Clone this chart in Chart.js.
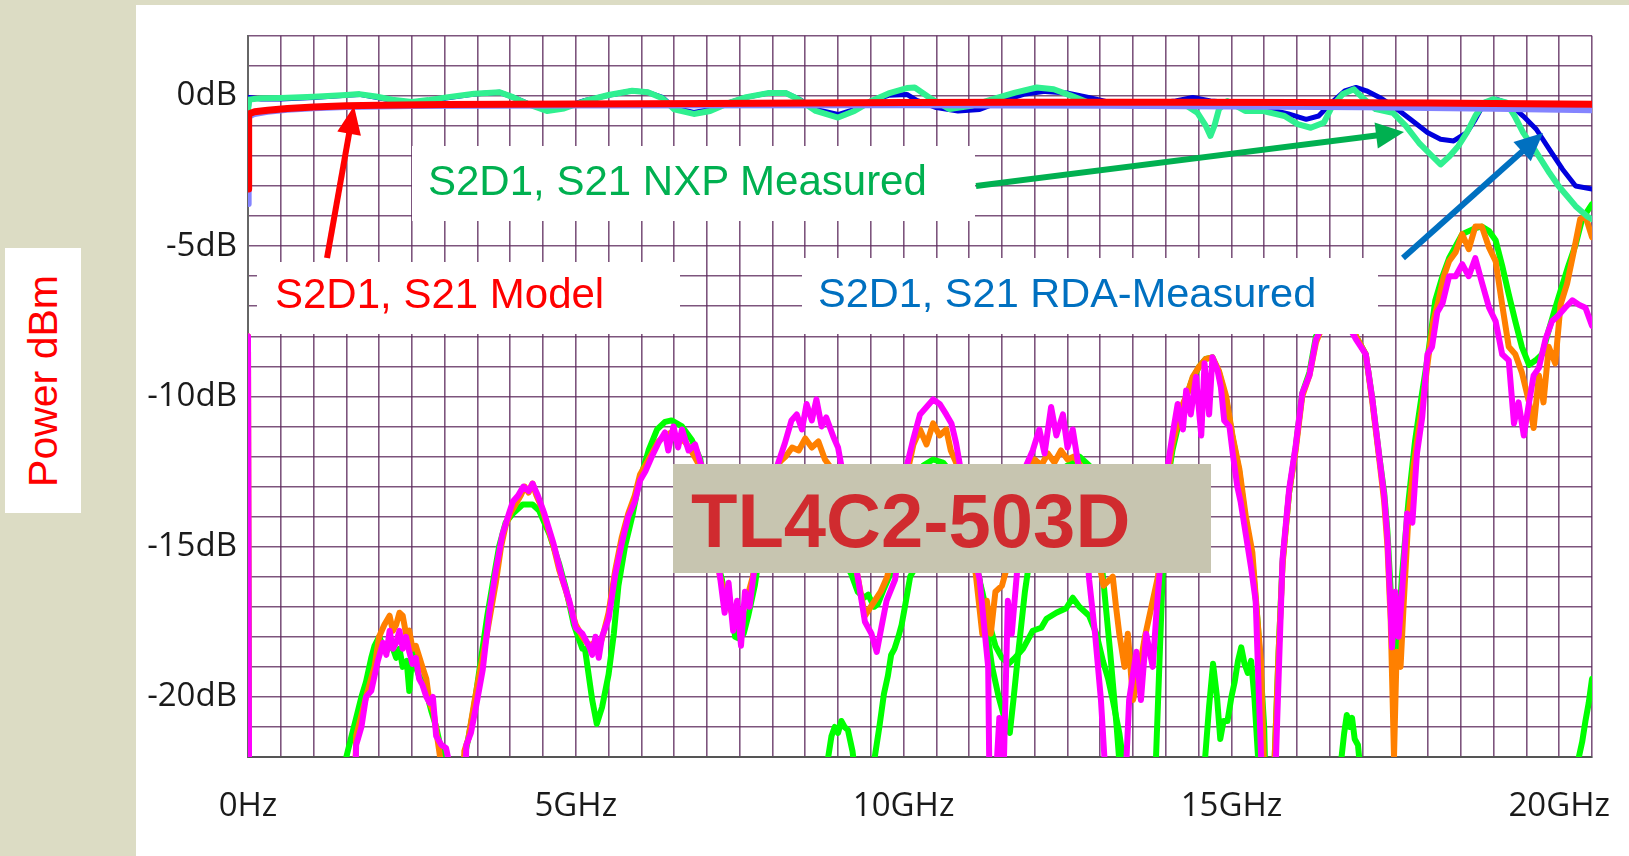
<!DOCTYPE html>
<html><head><meta charset="utf-8">
<script src="https://cdn.jsdelivr.net/npm/chart.js@4.4.1/dist/chart.umd.min.js"></script>
<style>
html,body{margin:0;padding:0;}
body{width:1629px;height:856px;background:#dcdcc4;position:relative;overflow:hidden;}
#panel{position:absolute;left:136px;top:5px;width:1493px;height:851px;background:#fff;}
#c{position:absolute;left:136px;top:5px;width:1493px;height:851px;}
#ov{position:absolute;left:0;top:0;pointer-events:none;}
</style></head><body>
<div id="panel"></div>
<canvas id="c" width="1493" height="851"></canvas>
<svg id="ov" width="1629" height="856" xmlns="http://www.w3.org/2000/svg"></svg>
<script>
// ---------- tick labels ----------
const xTickValues = [0, 5, 10, 15, 20];
const xTickLabels = ['0Hz', '5GHz', '10GHz', '15GHz', '20GHz'];
const yTickValues = [0, -5, -10, -15, -20];
const yTickLabels = ['0dB', '-5dB', '-10dB', '-15dB', '-20dB'];

// ---------- S21 curves (GHz, dB) ----------
const s21Model = [[0,-3.1],[0.01,-0.6],[0.1,-0.53],[0.3,-0.48],[0.6,-0.42],[1.0,-0.37],[1.5,-0.33],[2.0,-0.31],[3.0,-0.29],[5,-0.27],[7,-0.25],[10,-0.22],[12,-0.21],[14,-0.21],[16,-0.22],[18,-0.24],[20.5,-0.28]];
const s21Model2 = [[0,-3.6],[0.01,-0.7],[0.1,-0.6],[0.3,-0.53],[0.6,-0.46],[1.0,-0.41],[1.5,-0.37],[2.5,-0.34],[5,-0.32],[10,-0.31],[13,-0.33],[15,-0.35],[17,-0.38],[19,-0.43],[20.5,-0.48]];
const s21Nxp = [[0,-0.5],[0.02,-0.12],[0.2,-0.08],[0.5,-0.07],[1.0,-0.03],[1.5,0.03],[1.7,0.06],[1.95,-0.02],[2.2,-0.13],[2.5,-0.2],[2.75,-0.14],[3.05,-0.04],[3.45,0.07],[3.84,0.12],[4.05,-0.05],[4.3,-0.3],[4.56,-0.5],[4.82,-0.42],[5.14,-0.17],[5.5,0.03],[5.86,0.17],[6.1,0.12],[6.32,-0.08],[6.5,-0.45],[6.8,-0.6],[7.05,-0.5],[7.35,-0.22],[7.6,-0.04],[7.95,0.1],[8.2,0.1],[8.4,-0.12],[8.66,-0.5],[9.0,-0.72],[9.25,-0.5],[9.5,-0.18],[9.77,0.08],[10.05,0.26],[10.17,0.28],[10.43,-0.11],[10.7,-0.44],[11.03,-0.33],[11.36,-0.11],[11.7,0.11],[12.03,0.28],[12.29,0.22],[12.56,0],[12.82,-0.22],[13.15,-0.28],[13.48,-0.28],[13.88,-0.33],[14.28,-0.28],[14.48,-0.56],[14.61,-1.0],[14.68,-1.33],[14.74,-1.0],[14.81,-0.44],[14.94,-0.17],[15.21,-0.5],[15.47,-0.5],[15.81,-0.67],[16.01,-0.94],[16.21,-1.06],[16.41,-0.89],[16.54,-0.33],[16.7,0.06],[16.87,0.22],[17.0,-0.06],[17.2,-0.44],[17.46,-0.56],[17.66,-1.0],[17.86,-1.56],[18.06,-2.0],[18.19,-2.28],[18.33,-2.0],[18.46,-1.67],[18.59,-1.22],[18.72,-0.67],[18.86,-0.22],[18.99,-0.11],[19.19,-0.22],[19.32,-0.67],[19.45,-1.22],[19.59,-1.67],[19.72,-2.11],[19.85,-2.56],[19.99,-3.0],[20.12,-3.33],[20.25,-3.67],[20.42,-4.0],[20.5,-4.1]];
const s21Rda = [[0,-0.6],[0.02,-0.05],[0.2,-0.1],[0.5,-0.1],[1.0,-0.05],[1.5,0.02],[1.7,0.05],[1.95,-0.05],[2.2,-0.15],[2.5,-0.2],[2.75,-0.15],[3.05,-0.06],[3.45,0.06],[3.84,0.12],[4.05,-0.05],[4.3,-0.28],[4.56,-0.45],[4.82,-0.38],[5.14,-0.15],[5.5,0.02],[5.86,0.17],[6.1,0.12],[6.32,-0.05],[6.5,-0.4],[6.8,-0.55],[7.05,-0.45],[7.35,-0.22],[7.6,-0.05],[7.95,0.1],[8.2,0.1],[8.4,-0.1],[8.66,-0.45],[9.0,-0.62],[9.25,-0.45],[9.5,-0.17],[9.77,0.02],[10.05,0.05],[10.2,-0.15],[10.5,-0.39],[10.83,-0.5],[11.16,-0.45],[11.5,-0.17],[11.83,0.05],[12.16,0.15],[12.49,0.1],[12.82,-0.05],[13.15,-0.22],[13.62,-0.28],[14.15,-0.17],[14.41,-0.05],[14.68,-0.17],[15.01,-0.22],[15.47,-0.39],[15.87,-0.6],[16.14,-0.78],[16.33,-0.67],[16.53,-0.22],[16.73,0.17],[16.9,0.28],[17.06,0.17],[17.26,-0.05],[17.46,-0.33],[17.73,-0.78],[17.99,-1.22],[18.19,-1.44],[18.39,-1.5],[18.59,-1.22],[18.72,-0.78],[18.86,-0.22],[19.05,-0.11],[19.25,-0.28],[19.45,-0.67],[19.65,-1.11],[19.85,-1.78],[20.05,-2.44],[20.25,-3.0],[20.5,-3.1]];

// ---------- S11-type curves (GHz, dB) ----------
const s11Magenta = [[0,-8],[0.02,-26],[1.6,-26],[1.65,-21.6],[1.73,-21.0],[1.8,-20.0],[1.88,-19.8],[1.98,-18.8],[2.06,-18.2],[2.11,-18.6],[2.16,-17.8],[2.21,-18.4],[2.26,-18.2],[2.31,-17.8],[2.36,-18.4],[2.41,-18.0],[2.46,-18.5],[2.51,-18.9],[2.56,-18.7],[2.61,-19.4],[2.66,-19.6],[2.72,-20.0],[2.77,-20.2],[2.82,-20.0],[2.87,-21.3],[2.95,-21.6],[3.02,-21.7],[3.07,-22.2],[3.1,-26],[3.28,-26],[3.33,-21.6],[3.4,-21.2],[3.48,-20.3],[3.58,-19.1],[3.68,-17.2],[3.78,-15.8],[3.88,-14.6],[3.98,-13.9],[4.04,-13.5],[4.12,-13.3],[4.2,-13.0],[4.28,-13.15],[4.34,-12.9],[4.42,-13.3],[4.52,-13.9],[4.66,-14.9],[4.8,-16.1],[4.9,-16.8],[5.0,-17.7],[5.1,-17.9],[5.2,-18.3],[5.25,-18.6],[5.3,-18.0],[5.35,-18.7],[5.4,-18.0],[5.5,-17.4],[5.6,-15.95],[5.7,-14.9],[5.8,-14.0],[5.9,-13.5],[5.98,-12.8],[6.06,-12.5],[6.16,-12.0],[6.26,-11.55],[6.36,-11.2],[6.41,-11.8],[6.49,-11.0],[6.56,-11.7],[6.62,-11.1],[6.72,-11.8],[6.82,-11.6],[6.9,-12.2],[6.98,-12.6],[7.1,-14.5],[7.2,-16.0],[7.27,-17.2],[7.33,-16.2],[7.4,-17.8],[7.46,-16.8],[7.52,-18.3],[7.58,-16.5],[7.65,-17.0],[7.72,-15.8],[7.85,-14],[8.0,-12.8],[8.09,-12.2],[8.19,-11.55],[8.29,-10.8],[8.37,-10.6],[8.45,-11.1],[8.52,-10.25],[8.6,-10.8],[8.67,-10.1],[8.75,-11.0],[8.82,-10.7],[8.93,-11.35],[9.0,-11.7],[9.05,-12.3],[9.18,-14.5],[9.3,-16.0],[9.41,-17.5],[9.51,-17.9],[9.59,-18.5],[9.66,-17.7],[9.74,-16.8],[9.87,-16.1],[9.95,-14.8],[10.05,-12.3],[10.15,-11.4],[10.25,-10.6],[10.35,-10.35],[10.45,-10.1],[10.55,-10.25],[10.65,-10.6],[10.73,-10.9],[10.8,-11.55],[10.86,-12.3],[11.0,-14.5],[11.16,-16.1],[11.24,-17.9],[11.29,-19.0],[11.31,-23],[11.4,-23],[11.46,-20.7],[11.52,-23],[11.59,-16.8],[11.65,-17.9],[11.72,-16.1],[11.8,-14],[11.87,-12.3],[11.97,-11.8],[12.07,-11.1],[12.15,-11.9],[12.25,-10.35],[12.33,-11.3],[12.43,-10.6],[12.5,-11.7],[12.58,-11.1],[12.66,-12.2],[12.75,-13.5],[12.83,-16.1],[12.92,-17.9],[13.01,-20.1],[13.09,-23],[13.38,-23],[13.44,-20.1],[13.55,-18.5],[13.62,-20.1],[13.7,-17.9],[13.8,-19.0],[13.85,-17.4],[13.9,-16.0],[13.97,-14],[14.03,-12.3],[14.1,-11.3],[14.18,-10.25],[14.26,-11.1],[14.31,-9.8],[14.38,-10.6],[14.46,-9.35],[14.54,-11.3],[14.59,-8.9],[14.66,-10.6],[14.71,-8.7],[14.79,-9.15],[14.84,-9.7],[14.89,-10.8],[14.97,-11.0],[15.02,-11.9],[15.09,-13.0],[15.14,-13.5],[15.22,-14.6],[15.3,-15.7],[15.37,-16.8],[15.42,-20],[15.47,-23],[15.62,-23],[15.68,-22],[15.78,-15.4],[15.88,-13.1],[15.98,-11.65],[16.08,-9.9],[16.19,-9.3],[16.29,-8.1],[16.4,-7.6],[16.6,-7.4],[16.8,-7.7],[16.9,-8.1],[17.05,-8.6],[17.15,-10.1],[17.25,-11.9],[17.33,-13.3],[17.38,-14.7],[17.43,-17.2],[17.45,-18.35],[17.5,-16.5],[17.55,-18.0],[17.6,-16.6],[17.68,-13.9],[17.76,-14.2],[17.83,-11.9],[17.91,-10.7],[17.99,-8.6],[18.06,-8.35],[18.14,-7.2],[18.22,-6.9],[18.32,-6.0],[18.42,-6.0],[18.52,-5.6],[18.62,-6.0],[18.72,-5.4],[18.82,-6.2],[18.93,-7.05],[19.03,-7.5],[19.13,-8.6],[19.23,-8.8],[19.31,-10.9],[19.38,-10.2],[19.46,-11.3],[19.54,-10.2],[19.61,-9.3],[19.69,-9.05],[19.79,-8.1],[19.89,-7.5],[19.99,-7.3],[20.09,-7.05],[20.2,-6.8],[20.3,-6.95],[20.4,-7.05],[20.5,-7.65]];
const s11Orange = [[0,-8],[0.02,-26],[1.6,-26],[1.65,-21.3],[1.8,-20],[1.93,-19],[2.0,-18.0],[2.08,-17.6],[2.16,-17.3],[2.21,-17.8],[2.26,-17.6],[2.31,-17.2],[2.36,-17.3],[2.41,-17.9],[2.46,-17.8],[2.51,-18.4],[2.56,-18.3],[2.66,-19.0],[2.72,-19.4],[2.77,-20.2],[2.83,-20.5],[2.89,-21.4],[2.95,-22.3],[3.0,-26],[3.25,-26],[3.3,-21.8],[3.36,-21.4],[3.45,-20.2],[3.55,-19.0],[3.62,-18.2],[3.7,-17.2],[3.78,-16.2],[3.86,-15.0],[3.93,-14.3],[4.0,-13.9],[4.08,-13.6],[4.16,-13.3],[4.22,-13.0],[4.28,-13.2],[4.34,-12.9],[4.4,-13.3],[4.48,-13.7],[4.55,-14.2],[4.65,-14.9],[4.75,-15.8],[4.84,-16.4],[4.92,-17.0],[5.0,-17.6],[5.1,-18.0],[5.2,-18.3],[5.28,-18.2],[5.35,-18.4],[5.42,-17.9],[5.5,-17.2],[5.6,-15.8],[5.7,-14.7],[5.8,-13.9],[5.9,-13.3],[5.98,-12.6],[6.06,-12.3],[6.16,-11.9],[6.26,-11.5],[6.36,-11.3],[6.46,-11.2],[6.56,-11.4],[6.66,-11.5],[6.76,-11.8],[6.86,-12.2],[6.95,-12.8],[7.05,-14],[7.2,-16.0],[7.3,-16.8],[7.4,-17.3],[7.5,-17.4],[7.6,-16.8],[7.7,-16.0],[7.85,-14],[8.0,-12.8],[8.1,-12.2],[8.2,-12.0],[8.3,-11.7],[8.4,-11.8],[8.5,-11.4],[8.6,-11.7],[8.7,-11.5],[8.8,-12.1],[8.9,-12.4],[9.0,-12.6],[9.15,-14.5],[9.3,-16.0],[9.41,-17.3],[9.5,-17.0],[9.56,-16.8],[9.65,-16.5],[9.75,-16.0],[9.9,-14.5],[10.05,-12.6],[10.15,-11.6],[10.25,-11.1],[10.35,-11.6],[10.45,-10.9],[10.55,-11.3],[10.65,-11.1],[10.72,-11.8],[10.8,-12.2],[10.95,-14.5],[11.1,-15.9],[11.2,-17.9],[11.27,-16.8],[11.33,-17.9],[11.4,-16.5],[11.5,-16.3],[11.6,-15.5],[11.75,-13.5],[11.9,-12.4],[12.0,-12.1],[12.1,-12.3],[12.2,-11.9],[12.3,-12.2],[12.4,-11.8],[12.5,-12.1],[12.6,-12.0],[12.7,-12.3],[12.8,-13],[12.95,-15.2],[13.05,-16.3],[13.19,-16],[13.24,-17],[13.29,-17.9],[13.37,-19],[13.42,-17.9],[13.5,-20.1],[13.58,-19.3],[13.68,-18.0],[13.78,-17.0],[13.88,-16.0],[13.95,-14.5],[14.05,-12.3],[14.1,-11.6],[14.18,-10.9],[14.26,-10.25],[14.33,-9.9],[14.41,-9.35],[14.51,-9.0],[14.61,-8.75],[14.71,-8.7],[14.81,-9.15],[14.92,-10.0],[15.02,-11.35],[15.12,-12.4],[15.22,-14.0],[15.32,-15.2],[15.4,-17.5],[15.45,-18.8],[15.5,-22.5],[15.6,-26],[15.66,-22],[15.72,-18.5],[15.78,-15.6],[15.88,-13.2],[15.98,-11.8],[16.08,-10.0],[16.19,-9.3],[16.29,-8.2],[16.4,-7.6],[16.6,-7.3],[16.8,-7.6],[16.9,-8.0],[17.05,-8.6],[17.15,-10.2],[17.25,-12.0],[17.33,-13.5],[17.38,-15.0],[17.43,-17.5],[17.48,-22.0],[17.52,-18.5],[17.58,-19],[17.63,-16.8],[17.7,-14.0],[17.78,-12.3],[17.85,-11.2],[17.93,-10.0],[18.01,-8.6],[18.08,-7.5],[18.16,-6.8],[18.24,-6.0],[18.32,-5.5],[18.42,-5.2],[18.52,-4.6],[18.62,-5.1],[18.72,-4.35],[18.82,-4.35],[18.93,-5.05],[19.03,-5.5],[19.13,-6.95],[19.23,-8.35],[19.33,-8.6],[19.43,-9.2],[19.54,-10.2],[19.61,-11.05],[19.69,-9.3],[19.76,-10.2],[19.84,-8.35],[19.94,-8.9],[20.02,-6.95],[20.12,-6.25],[20.22,-5.2],[20.32,-4.1],[20.4,-4.0],[20.5,-4.7]];
const s11Green = [[0,-13.5],[0.02,-26],[1.45,-26],[1.5,-22],[1.58,-21.3],[1.65,-20.7],[1.73,-20.0],[1.8,-19.5],[1.88,-18.7],[1.93,-18.3],[2.0,-18.0],[2.06,-18.3],[2.11,-18.5],[2.18,-18.2],[2.26,-18.7],[2.31,-18.4],[2.36,-19.0],[2.42,-18.8],[2.46,-19.8],[2.51,-18.5],[2.56,-19.0],[2.61,-19.3],[2.68,-19.6],[2.74,-20.0],[2.8,-20.5],[2.87,-21.0],[2.97,-22.0],[3.02,-26],[3.25,-26],[3.3,-22.0],[3.35,-21.5],[3.45,-20.3],[3.55,-18.8],[3.65,-17.3],[3.75,-16.0],[3.83,-15.0],[3.93,-14.2],[4.04,-13.9],[4.19,-13.6],[4.34,-13.6],[4.44,-13.8],[4.6,-14.6],[4.75,-15.6],[4.85,-16.4],[4.97,-17.6],[5.1,-18.4],[5.14,-18.4],[5.25,-20.1],[5.32,-20.9],[5.4,-20.35],[5.5,-19.25],[5.58,-17.9],[5.65,-16.3],[5.75,-15.0],[5.86,-14.0],[5.96,-12.9],[6.11,-11.8],[6.24,-11.1],[6.36,-10.85],[6.46,-10.8],[6.62,-11.0],[6.77,-11.45],[6.9,-12.1],[7.0,-13.5],[7.1,-15],[7.23,-16.1],[7.3,-17.0],[7.38,-17.05],[7.43,-18.0],[7.48,-18.05],[7.56,-17.9],[7.63,-17.3],[7.73,-16.3],[7.85,-14.5],[8.0,-13.0],[8.1,-12.3],[8.3,-12.5],[8.5,-12.6],[8.7,-13.0],[8.9,-14.0],[9.1,-15.5],[9.2,-15.9],[9.3,-16.5],[9.4,-16.7],[9.46,-16.6],[9.55,-17.0],[9.61,-16.9],[9.7,-16.4],[9.8,-15.9],[9.95,-14.5],[10.1,-13.0],[10.3,-12.3],[10.45,-12.1],[10.6,-12.2],[10.75,-12.6],[10.9,-14.0],[11.05,-15.0],[11.15,-16.0],[11.25,-17.5],[11.35,-19.0],[11.45,-20.0],[11.55,-20.8],[11.62,-21.2],[11.68,-20.0],[11.75,-18.5],[11.85,-16.5],[11.95,-15.0],[12.1,-13.3],[12.3,-12.6],[12.5,-12.3],[12.68,-12.0],[12.83,-12.3],[12.95,-14.0],[13.05,-16.2],[13.15,-18.5],[13.25,-21.0],[13.32,-23],[13.5,-26],[13.8,-26],[13.85,-22],[13.9,-19],[13.95,-16],[14.05,-12.5],[14.1,-11.8],[14.26,-10.3],[14.41,-9.4],[14.51,-9.0],[14.61,-8.75],[14.71,-8.7],[14.81,-9.2],[14.92,-10.1],[15.02,-11.4],[15.12,-12.5],[15.22,-14.2],[15.32,-15.5],[15.4,-17.5],[15.5,-21],[15.55,-26],[15.62,-26],[15.66,-22],[15.72,-18.5],[15.78,-15.5],[15.88,-13.2],[15.98,-11.7],[16.08,-9.9],[16.19,-9.2],[16.29,-8.0],[16.5,-7.3],[16.8,-7.5],[16.9,-8.0],[17.05,-8.6],[17.15,-10.1],[17.25,-11.9],[17.33,-13.2],[17.38,-14.5],[17.43,-16.5],[17.48,-18.0],[17.52,-19.0],[17.56,-17.5],[17.6,-16.0],[17.7,-13.5],[17.8,-11.5],[17.9,-10.0],[18.0,-8.6],[18.11,-6.8],[18.22,-6.0],[18.32,-5.4],[18.42,-5.0],[18.52,-4.6],[18.62,-4.5],[18.72,-4.4],[18.82,-4.35],[18.93,-4.5],[19.03,-4.8],[19.13,-5.65],[19.23,-6.6],[19.33,-7.5],[19.43,-8.35],[19.54,-8.95],[19.64,-8.8],[19.74,-8.6],[19.84,-7.8],[19.94,-7.05],[20.04,-6.35],[20.14,-5.65],[20.25,-4.95],[20.35,-4.1],[20.5,-3.6]];
const s11GreenLow = [[0,-16.2],[0.02,-26],[8.8,-26],[8.85,-22],[8.9,-21.3],[8.95,-21.0],[9.0,-21.2],[9.05,-20.8],[9.1,-21.0],[9.15,-21.1],[9.22,-21.8],[9.26,-22.5],[9.35,-26],[9.52,-26],[9.56,-22],[9.63,-21],[9.7,-19.9],[9.76,-19.3],[9.81,-18.6],[9.86,-18.4],[9.92,-18],[9.97,-17.6],[10.02,-17],[10.1,-16],[10.3,-15.2],[10.6,-15],[10.9,-15.2],[11.1,-15.6],[11.2,-16.5],[11.3,-17.5],[11.4,-18.3],[11.5,-18.7],[11.6,-18.9],[11.7,-18.7],[11.82,-18.4],[11.97,-17.8],[12.1,-17.7],[12.18,-17.4],[12.33,-17.2],[12.48,-17.05],[12.58,-16.7],[12.68,-17],[12.83,-17.3],[12.94,-17.9],[13.04,-18.8],[13.12,-19.4],[13.19,-20.1],[13.29,-21.2],[13.34,-22],[13.45,-26],[14.5,-26],[14.6,-22],[14.66,-20.3],[14.72,-18.9],[14.78,-20],[14.83,-21.4],[14.88,-20.8],[14.94,-20.8],[15.0,-20.0],[15.05,-19.5],[15.1,-18.8],[15.15,-18.35],[15.2,-18.9],[15.25,-19.2],[15.3,-18.8],[15.35,-20],[15.42,-22.5],[15.5,-26],[16.6,-26],[16.68,-22],[16.72,-21.2],[16.76,-20.6],[16.8,-21.0],[16.84,-20.7],[16.88,-21.4],[16.93,-21.6],[16.97,-22.5],[17.05,-26],[20.2,-26],[20.3,-22],[20.35,-21.5],[20.4,-20.8],[20.45,-20.2],[20.5,-19.4]];

const toXY = arr => arr.map(p => ({x: p[0], y: p[1]}));
function ds(label, arr, color, width) {
  return {label, data: toXY(arr), borderColor: color, backgroundColor: color, borderWidth: width,
    pointRadius: 0, tension: 0, fill: false, borderJoinStyle: 'round', borderCapStyle: 'round'};
}

const gridColor = 'rgba(92,42,92,0.8)';
new Chart(document.getElementById('c'), {
  type: 'line',
  data: {
    datasets: [
      ds('S21 Model', s21Model, '#ff0000', 7),
      ds('S21 Model 2', s21Model2, '#8484ff', 6),
      ds('S21 NXP', s21Nxp, '#30f090', 6),
      ds('S21 RDA', s21Rda, '#0000dd', 5),
      ds('S11 magenta', s11Magenta, '#ff00ff', 6),
      ds('S11 orange', s11Orange, '#ff8000', 6),
      ds('S11 green', s11Green, '#00ff00', 6),
      ds('S11 green low', s11GreenLow, '#00ff00', 6)
    ]
  },
  options: {
    responsive: false,
    animation: false,
    events: [],
    layout: {padding: {left: 0, top: 23, right: 37, bottom: 0}},
    plugins: {legend: {display: false}, tooltip: {enabled: false}},
    scales: {
      x: {
        type: 'linear', min: 0, max: 20.5,
        afterFit: s => { s.height = 99; },
        grid: {color: gridColor, lineWidth: 1.6, drawTicks: false},
        border: {color: '#555', width: 2},
        ticks: {
          stepSize: 0.5, autoSkip: false, maxRotation: 0, padding: 30,
          color: '#1a1a1a', font: {family: 'Open Sans', size: 33},
          callback: v => { const i = xTickValues.indexOf(v); return i >= 0 ? xTickLabels[i] : ''; }
        }
      },
      y: {
        min: -22, max: 2,
        afterFit: s => { s.width = 112; },
        grid: {color: gridColor, lineWidth: 1.6, drawTicks: false},
        border: {color: '#666', width: 2},
        ticks: {
          stepSize: 1, autoSkip: false, padding: 11,
          color: '#1a1a1a', font: {family: 'Open Sans', size: 33},
          callback: v => { const i = yTickValues.indexOf(v); return i >= 0 ? yTickLabels[i] : ''; }
        }
      }
    }
  }
});

// ---------- annotations (boxes, texts, arrows) ----------
const svg = document.getElementById('ov');
const NS = 'http://www.w3.org/2000/svg';
function el(tag, attrs, text) {
  const e = document.createElementNS(NS, tag);
  for (const k in attrs) e.setAttribute(k, attrs[k]);
  if (text !== undefined) e.textContent = text;
  svg.appendChild(e); return e;
}
function arrow(x1, y1, x2, y2, color, w, hl, hw) {
  const dx = x2 - x1, dy = y2 - y1, L = Math.hypot(dx, dy), ux = dx / L, uy = dy / L;
  const bx = x2 - ux * hl, by = y2 - uy * hl, px = -uy, py = ux;
  el('line', {x1, y1, x2: bx + ux * 2, y2: by + uy * 2, stroke: color, 'stroke-width': w});
  el('polygon', {points: `${x2},${y2} ${bx + px * hw},${by + py * hw} ${bx - px * hw},${by - py * hw}`, fill: color});
}
const font = "'Liberation Sans', Arial, sans-serif";
// Power dBm label
el('rect', {x: 5, y: 248, width: 76, height: 265, fill: '#fff'});
el('text', {x: 0, y: 0, transform: 'translate(43,381) rotate(-90)', 'text-anchor': 'middle', 'dominant-baseline': 'central',
  'font-family': font, 'font-size': 41, fill: '#ff0000'}, 'Power dBm');
// label boxes
el('rect', {x: 412, y: 146, width: 563, height: 75, fill: '#fff'});
el('text', {x: 428, y: 195, 'font-family': font, 'font-size': 42, fill: '#00b050'}, 'S2D1, S21 NXP Measured');
el('rect', {x: 257, y: 262, width: 423, height: 72, fill: '#fff'});
el('text', {x: 275, y: 308, 'font-family': font, 'font-size': 42, fill: '#ff0000'}, 'S2D1, S21 Model');
el('rect', {x: 802, y: 258, width: 576, height: 76, fill: '#fff'});
el('text', {x: 818, y: 307, 'font-family': font, 'font-size': 41.5, fill: '#0070c0'}, 'S2D1, S21 RDA-Measured');
el('rect', {x: 673, y: 464, width: 538, height: 109, fill: '#c7c5b0'});
el('text', {x: 691, y: 547, 'font-family': font, 'font-size': 76, 'font-weight': 'bold', fill: '#d02b2f'}, 'TL4C2-503D');
// arrows
arrow(327, 258, 354, 106, '#ff0000', 6, 28, 12);
arrow(976, 186, 1404, 132, '#00b050', 6, 28, 13);
arrow(1403, 258, 1543, 133, '#0070c0', 6, 28, 13);
</script>
</body></html>
